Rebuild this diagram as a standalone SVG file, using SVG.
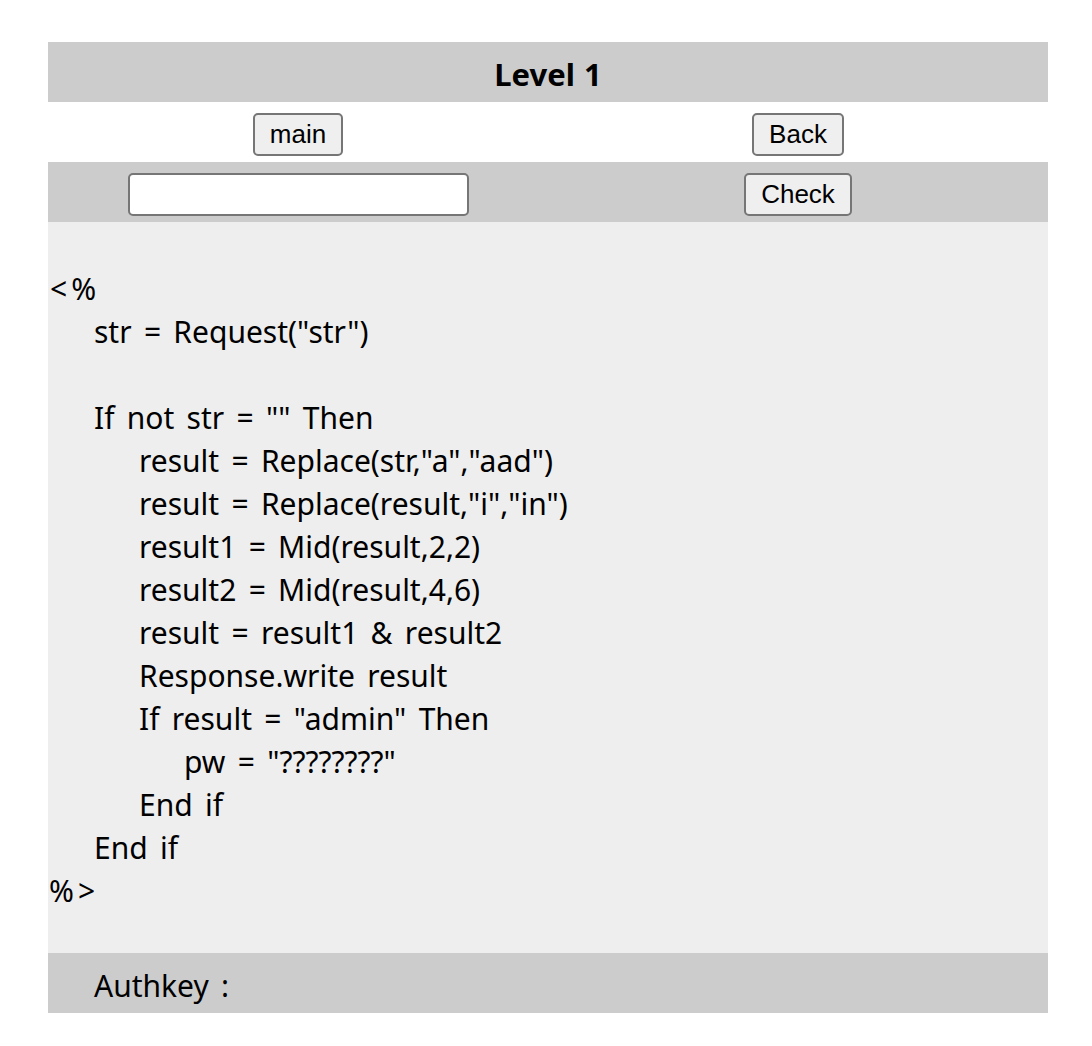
<svg xmlns="http://www.w3.org/2000/svg" width="1092" height="1046" viewBox="0 0 1092 1046">
<style>
.bar{fill:#cccccc}
.code{fill:#eeeeee}
.btn{fill:#efefef;stroke:#767676;stroke-width:2}
.inp{fill:#ffffff;stroke:#767676;stroke-width:2}
.bt{font-family:"Liberation Sans",Arial,sans-serif;font-size:26px;fill:#000;text-anchor:middle}
.t{font-family:"Noto Sans","Open Sans",sans-serif;font-size:30px;fill:#000;word-spacing:4.5px}
.d{letter-spacing:4px}
.h{font-family:"Noto Sans","Open Sans",sans-serif;font-size:31px;font-weight:bold;fill:#000;text-anchor:middle;word-spacing:1px}
</style>
<rect width="1092" height="1046" fill="#ffffff"/>
<g id="header">
<rect class="bar" x="48" y="42" width="1000" height="60"/>
<text class="h" x="548" y="86">Level 1</text>
</g>
<g id="nav">
<g id="btn-main">
<rect class="btn" x="254" y="114" width="88" height="41" rx="4"/>
<text class="bt" x="298" y="143">main</text>
</g>
<g id="btn-back">
<rect class="btn" x="753" y="114" width="90" height="41" rx="4"/>
<text class="bt" x="798" y="143">Back</text>
</g>
</g>
<g id="form">
<rect class="bar" x="48" y="162" width="1000" height="60"/>
<rect id="input" class="inp" x="129" y="174" width="339" height="41" rx="4"/>
<g id="btn-check">
<rect class="btn" x="745" y="174" width="106" height="41" rx="4"/>
<text class="bt" x="798" y="203">Check</text>
</g>
</g>
<g id="source">
<rect class="code" x="48" y="222" width="1000" height="731"/>
<text class="t d" x="50" y="300">&lt;%</text>
<text class="t" x="94" y="343">str = Request("str")</text>
<text class="t" x="94" y="429">If not str = "" Then</text>
<text class="t" x="139" y="472">result = Replace(str,"a","aad")</text>
<text class="t" x="139" y="515">result = Replace(result,"i","in")</text>
<text class="t" x="139" y="558">result1 = Mid(result,2,2)</text>
<text class="t" x="139" y="601">result2 = Mid(result,4,6)</text>
<text class="t" x="139" y="644">result = result1 &amp; result2</text>
<text class="t" x="139" y="687">Response.write result</text>
<text class="t" x="139" y="730">If result = "admin" Then</text>
<text class="t" x="184" y="773">pw = "????????"</text>
<text class="t" x="139" y="816">End if</text>
<text class="t" x="94" y="859">End if</text>
<text class="t d" x="49" y="902">%&gt;</text>
</g>
<g id="authkey">
<rect class="bar" x="48" y="953" width="1000" height="60"/>
<text class="t" x="94" y="997">Authkey :</text>
</g>
</svg>
